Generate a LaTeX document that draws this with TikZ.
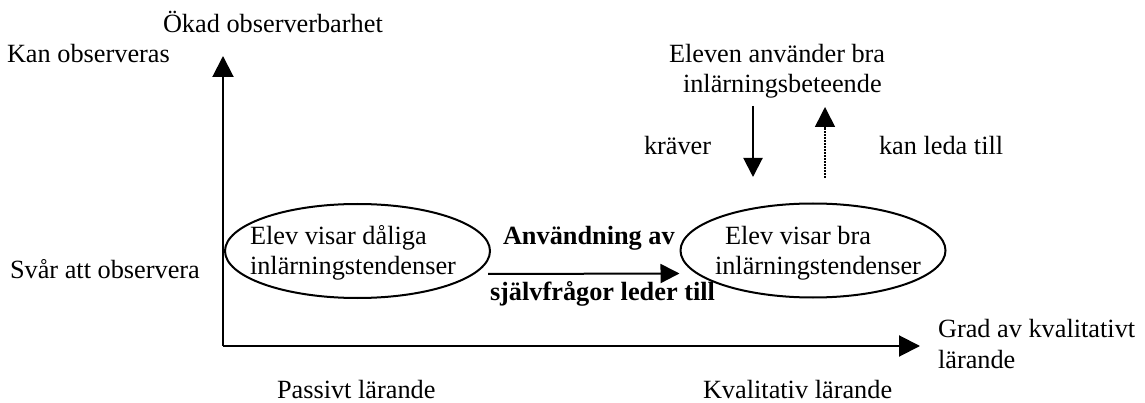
\documentclass[tikz,border=0pt]{standalone}
\usepackage{fontspec}
\setmainfont{Liberation Serif}
\usetikzlibrary{arrows.meta,shapes.geometric,calc}
\begin{document}
\begin{tikzpicture}[x=1pt,y=-1pt,
  every node/.style={inner sep=0pt, outer sep=0pt},
  txt/.style={font=\fontsize{26.3}{30.5}\selectfont},
  btxt/.style={font=\fontsize{26.3}{30.5}\selectfont\bfseries},
  axis/.style={line width=2pt, -{Triangle[length=21pt,width=21pt]}},
  conn/.style={line width=2pt, -{Triangle[length=19pt,width=19pt]}},
  dotconn/.style={line width=1.6pt, dash pattern=on 1.5pt off 1.5pt, -{Triangle[length=20pt,width=20pt]}},
  oval/.style={ellipse, draw, line width=2pt, minimum width=265pt, minimum height=94pt}
]
\fill[white] (0,0) rectangle (1145,403);
\useasboundingbox (0,0) rectangle (1145,403);

% axes
\coordinate (O) at (223,346);
\coordinate (Ytop) at (223,56);
\coordinate (Xend) at (920,346);
\draw[axis] (O) -- (Ytop);
\draw[axis] (O) -- (Xend);

% axis labels
\node[txt, anchor=base west] (ylab) at (163,33) {Ökad observerbarhet};
\node[txt, anchor=base west] (kan) at (7,63) {Kan observeras};
\node[txt, anchor=base west] (svar) at (10,278) {Svår att observera};
\node[txt, anchor=base west] (pass) at (277,398) {Passivt lärande};
\node[txt, anchor=base west] (kval) at (703,398) {Kvalitativ lärande};
\node[txt, anchor=base west, align=left] (xlab) at (938,368) {Grad av kvalitativt\\lärande};

% ellipses
\node[oval] (e1) at (357.5,251) {};
\node[oval] (e2) at (813,250.5) {};
\node[txt, align=left, anchor=base west] (t1) at (250,275) {Elev visar dåliga\\inlärningstendenser};
\node[txt, align=left, anchor=base west] (t2) at (715,275) {\hspace*{10pt}Elev visar bra\\inlärningstendenser};

% middle connector
\draw[conn] ([shift={(-2,23)}]e1.east) -- ([shift={(-1,23)}]e2.west);
\node[btxt, anchor=base west] (anv) at (503,245) {Användning av};
\node[btxt, anchor=base west] (sjalv) at (490,300) {självfrågor leder till};

% top
\node[txt, align=left, anchor=base west] (beh) at (669,93) {Eleven använder bra\\\hspace*{14pt}inlärningsbeteende};
\coordinate (k1) at (753,106);
\coordinate (k2) at (753,177);
\coordinate (l1) at (825,178);
\coordinate (l2) at (825,107);
\draw[conn] (k1) -- (k2);
\draw[dotconn] (l1) -- (l2);
\node[txt, anchor=base west] (krav) at (644,155) {kräver};
\node[txt, anchor=base west] (leda) at (879,155) {kan leda till};
\end{tikzpicture}
\end{document}
